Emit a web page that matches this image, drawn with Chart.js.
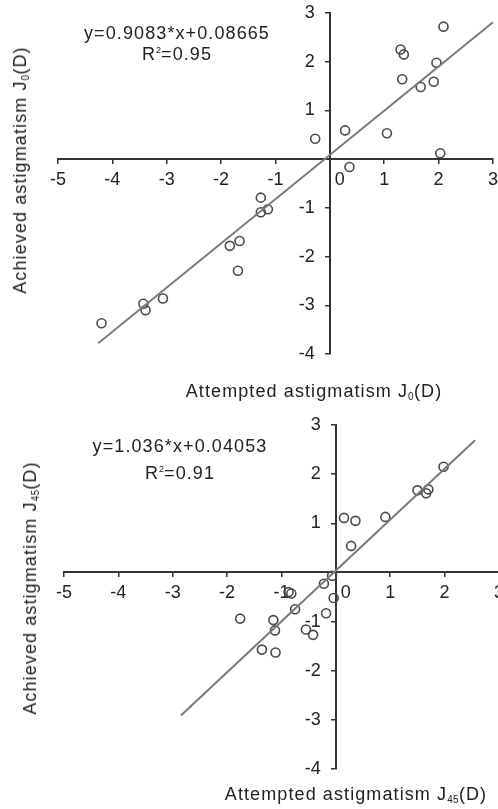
<!DOCTYPE html>
<html>
<head>
<meta charset="utf-8">
<script src="https://cdn.jsdelivr.net/npm/chart.js@4.4.1/dist/chart.umd.min.js"></script>
<style>
  html, body { margin: 0; padding: 0; background: #fff; }
  #page { position: relative; width: 498px; height: 809px; overflow: hidden; }
  canvas { position: absolute; left: 0; }
  .txt {
    position: absolute;
    font-family: "Liberation Sans", Arial, sans-serif;
    font-size: 18px;
    letter-spacing: 1.1px;
    color: #222;
    white-space: nowrap;
    transform: translate(-50%, -50%);
    line-height: 1;
  }
  .ytitle { transform: translate(-50%, -50%) rotate(-90deg); }
  .txt sub { font-size: 10px; vertical-align: -3px; letter-spacing: 0.3px; }
  .txt sup { font-size: 9px; vertical-align: 7px; letter-spacing: 0; }
</style>
</head>
<body>
<div id="page">
  <canvas id="j0Chart" width="504" height="405" style="top:0"></canvas>
  <canvas id="j45Chart" width="510" height="404" style="top:405px"></canvas>

  <div class="txt" style="left:177px; top:33px">y=0.9083*x+0.08665</div>
  <div class="txt" style="left:177px; top:54px">R<sup>2</sup>=0.95</div>
  <div class="txt ytitle" style="left:21px; top:170px">Achieved astigmatism J<sub>0</sub>(D)</div>
  <div class="txt" style="left:314px; top:392px">Attempted astigmatism J<sub>0</sub>(D)</div>

  <div class="txt" style="left:180px; top:446px">y=1.036*x+0.04053</div>
  <div class="txt" style="left:180px; top:473px">R<sup>2</sup>=0.91</div>
  <div class="txt ytitle" style="left:31px; top:588px">Achieved astigmatism J<sub>45</sub>(D)</div>
  <div class="txt" style="left:356px; top:795px">Attempted astigmatism J<sub>45</sub>(D)</div>
</div>
<script>
// J0 panel: attempted (x) vs achieved (y)
const j0Attempted = [1.30, 1.36, 2.09, 1.96, 1.33, 1.67, 1.91, 0.28, 1.05, -0.27, 2.03,
  0.36, -1.27, -1.27, -1.14, -1.66, -1.84, -1.69, -3.07, -3.43, -3.39, -4.20];
const j0Achieved = [2.25, 2.15, 2.72, 1.98, 1.64, 1.48, 1.59, 0.59, 0.53, 0.42, 0.12,
  -0.16, -0.79, -1.09, -1.03, -1.68, -1.78, -2.29, -2.86, -2.97, -3.10, -3.37];
const j0FitX = [-4.26, 3.0];
const j0FitY = [-3.78, 2.81];

// J45 panel
const j45Attempted = [1.98, 1.50, 1.66, 1.70, 0.91, 0.15, 0.36, 0.28, -0.07, -0.22, -0.04,
  -0.87, -0.82, -0.75, -0.18, -0.55, -0.42, -1.76, -1.15, -1.12, -1.36, -1.11];
const j45Achieved = [2.15, 1.67, 1.61, 1.69, 1.13, 1.11, 1.05, 0.54, -0.07, -0.23, -0.52,
  -0.40, -0.43, -0.75, -0.83, -1.16, -1.27, -0.94, -0.97, -1.18, -1.57, -1.63];
const j45FitX = [-2.85, 2.56];
const j45FitY = [-2.91, 2.69];

const xRange = [-5, 3];
const yRange = [-4, 3];

document.addEventListener('DOMContentLoaded', function () {
  Chart.defaults.animation = false;
  Chart.defaults.font.family = '"Liberation Sans", Arial, sans-serif';
  Chart.defaults.font.size = 18;
  Chart.defaults.color = '#222';
  Chart.defaults.plugins.tooltip.enabled = false;
  Chart.defaults.plugins.legend.display = false;

  function toPoints(xs, ys) {
    return xs.map((x, i) => ({ x: x, y: ys[i] }));
  }

  function createChart(selector, xs, ys, fitX, fitY, padding) {
    const ctx = document.getElementById(selector);
    if (!ctx) return;
    new Chart(ctx, {
      type: 'scatter',
      data: {
        datasets: [{
          type: 'line',
          data: toPoints(fitX, fitY),
          borderColor: '#7a7a7a',
          borderWidth: 2,
          pointRadius: 0,
          fill: false,
        }, {
          data: toPoints(xs, ys),
          pointStyle: 'circle',
          pointRadius: 4.5,
          borderWidth: 1.6,
          borderColor: '#4a4a4a',
          backgroundColor: 'rgba(0,0,0,0)',
        }],
      },
      options: {
        responsive: false,
        animation: false,
        layout: { padding: padding },
        clip: false,
        scales: {
          x: {
            type: 'linear',
            min: xRange[0],
            max: xRange[1],
            position: { y: 0 },
            grid: { drawOnChartArea: false, tickLength: 4, color: '#333', lineWidth: 1.5 },
            border: { color: '#333', width: 2 },
            ticks: {
              stepSize: 1,
              padding: 6,
              color: '#222',
              // the 0 label sits a little right of the crossing axis
              callback: (v) => (v === 0 ? '    0' : String(v)),
            },
          },
          y: {
            type: 'linear',
            min: yRange[0],
            max: yRange[1],
            position: { x: 0 },
            grid: { drawOnChartArea: false, tickLength: 4, color: '#333', lineWidth: 1.5 },
            border: { color: '#333', width: 2 },
            ticks: {
              stepSize: 1,
              padding: 0,
              color: '#222',
              // trailing spaces keep right-aligned labels off the axis line
              callback: (v) => (v === 0 ? '' : String(v) + '   '),
            },
          },
        },
      },
    });
  }

  createChart('j0Chart', j0Attempted, j0Achieved, j0FitX, j0FitY,
    { left: 58, right: 11, top: 13, bottom: 51 });
  createChart('j45Chart', j45Attempted, j45Achieved, j45FitX, j45FitY,
    { left: 64, right: 11, top: 20, bottom: 40 });
});
</script>
</body>
</html>
